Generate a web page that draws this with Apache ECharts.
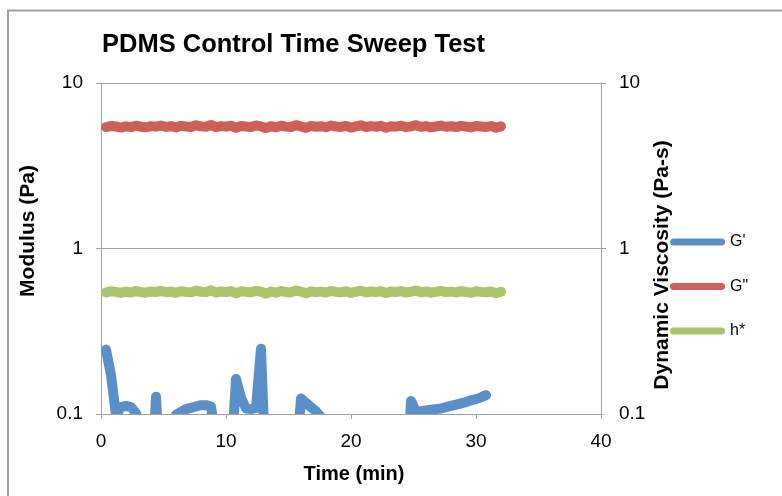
<!DOCTYPE html>
<html>
<head>
<meta charset="utf-8">
<title>PDMS Control Time Sweep Test</title>
<script src="https://cdn.jsdelivr.net/npm/echarts@6/dist/echarts.min.js"></script>
<style>
  html, body { margin: 0; padding: 0; background: #ffffff; }
  #chart { width: 782px; height: 496px; }
</style>
</head>
<body>
<div id="chart"></div>
<script>
// Sampling times (min)
const timeMin = [
  0.4, 0.8, 1.2, 1.6, 2.0, 2.4, 2.8, 3.2, 3.6, 4.0,
  4.4, 4.8, 5.2, 5.6, 6.0, 6.4, 6.8, 7.2, 7.6, 8.0,
  8.4, 8.8, 9.2, 9.6, 10.0, 10.4, 10.8, 11.2, 11.6, 12.0,
  12.4, 12.8, 13.2, 13.6, 14.0, 14.4, 14.8, 15.2, 15.6, 16.0,
  16.4, 16.8, 17.2, 17.6, 18.0, 18.4, 18.8, 19.2, 19.6, 20.0,
  20.4, 20.8, 21.2, 21.6, 22.0, 22.4, 22.8, 23.2, 23.6, 24.0,
  24.4, 24.8, 25.2, 25.6, 26.0, 26.4, 26.8, 27.2, 27.6, 28.0,
  28.4, 28.8, 29.2, 29.6, 30.0, 30.4, 30.8, 31.2, 31.6, 32.0
];

// Storage modulus G' (Pa)
const storageModulus = [
  0.245, 0.172, 0.098, 0.110, 0.112, 0.110, 0.101, 0.05, 0.04, 0.03,
  0.127, 0.03, 0.04, 0.06, 0.099, 0.103, 0.107, 0.109, 0.111, 0.113,
  0.113, 0.111, 0.07, 0.04, 0.03, 0.05, 0.163, 0.125, 0.108, 0.107,
  0.109, 0.248, 0.04, 0.03, 0.04, 0.03, 0.05, 0.04, 0.05, 0.124,
  0.117, 0.110, 0.104, 0.096, 0.05, 0.04, 0.03, 0.05, 0.04, 0.03,
  0.04, 0.05, 0.03, 0.04, 0.05, 0.03, 0.04, 0.03, 0.05, 0.04,
  0.03, 0.120, 0.103, 0.104, 0.105, 0.106, 0.107, 0.108, 0.110, 0.112,
  0.114, 0.116, 0.118, 0.121, 0.123, 0.126, 0.130, null, null, null
];

// Loss modulus G" (Pa)
const lossModulus = [
  5.42, 5.50, 5.46, 5.38, 5.47, 5.41, 5.52, 5.44, 5.40, 5.49,
  5.45, 5.53, 5.43, 5.48, 5.39, 5.51, 5.46, 5.42, 5.55, 5.47,
  5.44, 5.58, 5.41, 5.49, 5.45, 5.52, 5.36, 5.50, 5.46, 5.43,
  5.54, 5.47, 5.33, 5.48, 5.40, 5.52, 5.45, 5.42, 5.56, 5.47,
  5.35, 5.50, 5.44, 5.48, 5.41, 5.53, 5.46, 5.43, 5.50, 5.38,
  5.47, 5.55, 5.42, 5.49, 5.44, 5.51, 5.37, 5.48, 5.45, 5.52,
  5.41, 5.47, 5.56, 5.43, 5.49, 5.40, 5.46, 5.53, 5.44, 5.48,
  5.42, 5.51, 5.45, 5.39, 5.50, 5.46, 5.43, 5.49, 5.36, 5.47
];

// Complex viscosity h* (Pa-s)
const complexViscosity = [
  0.543, 0.551, 0.547, 0.539, 0.548, 0.542, 0.553, 0.545, 0.541, 0.550,
  0.546, 0.554, 0.544, 0.549, 0.540, 0.552, 0.547, 0.543, 0.556, 0.548,
  0.545, 0.559, 0.542, 0.550, 0.546, 0.553, 0.537, 0.551, 0.547, 0.544,
  0.555, 0.548, 0.534, 0.549, 0.541, 0.553, 0.546, 0.543, 0.557, 0.548,
  0.536, 0.551, 0.545, 0.549, 0.542, 0.554, 0.547, 0.544, 0.551, 0.539,
  0.548, 0.556, 0.543, 0.550, 0.545, 0.552, 0.538, 0.549, 0.546, 0.553,
  0.542, 0.548, 0.557, 0.544, 0.550, 0.541, 0.547, 0.554, 0.545, 0.549,
  0.543, 0.552, 0.546, 0.540, 0.551, 0.547, 0.544, 0.550, 0.537, 0.548
];

const seriesNames = ["G'", 'G"', 'h*'];

const FONT = '"Liberation Sans", Arial, Helvetica, sans-serif';
const GRAY = '#a0a0a0';
const BLUE = '#5b8fc8';
const RED = '#cd6158';
const GREEN = '#a9c46b';
const CAPSULE = 'path://M3.5 0H51.5A3.5 3.5 0 0 1 51.5 7H3.5A3.5 3.5 0 0 1 3.5 0Z';

const pairs = vals => timeMin.map((t, i) => [t, vals[i]]);

function logAxis(position, showGrid) {
  return {
    type: 'log',
    logBase: 10,
    min: 0.1,
    max: 10,
    position: position,
    axisLine: { show: true, lineStyle: { color: GRAY, width: 1 } },
    axisTick: { show: true, inside: false, length: 5, lineStyle: { color: GRAY, width: 1 } },
    minorTick: { show: false },
    axisLabel: { fontSize: 19, color: '#000', fontFamily: FONT, margin: 18 },
    splitLine: { show: showGrid, lineStyle: { color: GRAY, width: 1 } }
  };
}

function lineSeries(name, vals, color, axisIndex) {
  return {
    name: name,
    type: 'line',
    yAxisIndex: axisIndex,
    data: pairs(vals),
    showSymbol: false,
    symbol: 'none',
    connectNulls: false,
    lineStyle: { width: 10, color: color, cap: 'round', join: 'round' },
    itemStyle: { color: color },
    emphasis: { disabled: true },
    z: 3
  };
}

const chart = echarts.init(document.getElementById('chart'), null, { renderer: 'canvas' });

chart.setOption({
  animation: false,
  backgroundColor: '#ffffff',
  textStyle: { fontFamily: FONT },
  title: {
    text: 'PDMS Control Time Sweep Test',
    left: 102,
    top: 32,
    padding: 0,
    textStyle: { fontSize: 25.5, fontWeight: 'bold', color: '#000', fontFamily: FONT }
  },
  grid: { left: 101, right: 181, top: 83, bottom: 82, containLabel: false },
  legend: {
    orient: 'vertical',
    left: 670,
    top: 234,
    padding: 0,
    itemGap: 28.5,
    itemWidth: 55,
    itemHeight: 7,
    icon: CAPSULE,
    itemStyle: { borderWidth: 0 },
    textStyle: { fontSize: 16, color: '#000', fontFamily: FONT },
    data: seriesNames
  },
  xAxis: {
    type: 'value',
    min: 0,
    max: 40,
    interval: 10,
    z: 10,
    axisLine: { show: true, lineStyle: { color: GRAY, width: 1 } },
    axisTick: { show: true, inside: false, length: 5, lineStyle: { color: GRAY, width: 1 } },
    axisLabel: { fontSize: 19, color: '#000', fontFamily: FONT, margin: 18 },
    splitLine: { show: false }
  },
  yAxis: [logAxis('left', true), logAxis('right', false)],
  series: [
    lineSeries(seriesNames[0], storageModulus, BLUE, 0),
    lineSeries(seriesNames[1], lossModulus, RED, 0),
    lineSeries(seriesNames[2], complexViscosity, GREEN, 1)
  ],
  graphic: [
    {
      type: 'rect',
      silent: true,
      z: 1,
      shape: { x: 8, y: 10.5, width: 800, height: 500 },
      style: { fill: 'none', stroke: GRAY, lineWidth: 2 }
    },
    {
      // keeps the thick G' line from spilling under the time axis
      type: 'rect',
      silent: true,
      z: 5,
      shape: { x: 101, y: 414.5, width: 505, height: 7 },
      style: { fill: '#ffffff' }
    },
    {
      type: 'text',
      silent: true,
      x: 28,
      y: 231,
      rotation: Math.PI / 2,
      style: {
        text: 'Modulus (Pa)', fill: '#000', font: 'bold 21px ' + FONT,
        align: 'center', verticalAlign: 'middle', textAlign: 'center', textVerticalAlign: 'middle'
      }
    },
    {
      type: 'text',
      silent: true,
      x: 662,
      y: 265,
      rotation: Math.PI / 2,
      style: {
        text: 'Dynamic Viscosity (Pa-s)', fill: '#000', font: 'bold 21px ' + FONT,
        align: 'center', verticalAlign: 'middle', textAlign: 'center', textVerticalAlign: 'middle'
      }
    },
    {
      type: 'text',
      silent: true,
      x: 354,
      y: 474,
      style: {
        text: 'Time (min)', fill: '#000', font: 'bold 20px ' + FONT,
        align: 'center', verticalAlign: 'middle', textAlign: 'center', textVerticalAlign: 'middle'
      }
    }
  ]
});
</script>
</body>
</html>
